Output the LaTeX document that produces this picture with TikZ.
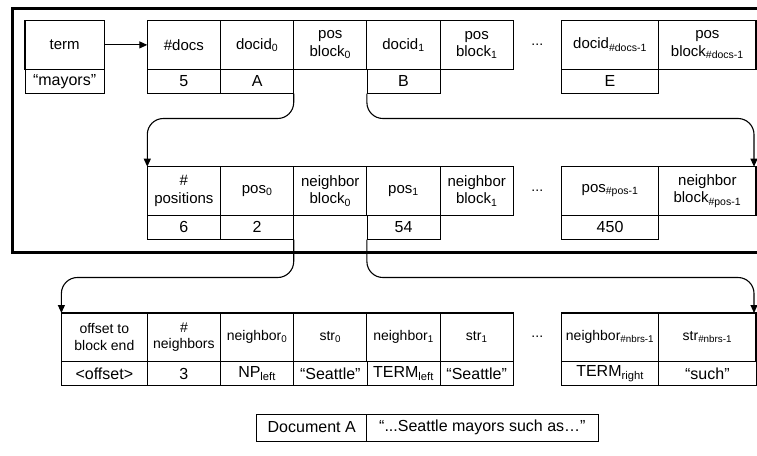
\documentclass[tikz,border=0pt]{standalone}
\usepackage{fontspec}
\setmainfont{Liberation Sans}
\usetikzlibrary{arrows.meta, positioning}

\begin{document}
\begin{tikzpicture}[x=1pt, y=-1pt,
    hdr/.style={rectangle, draw, line width=1.1pt, outer sep=0pt, inner sep=1pt,
                minimum width=73.2pt, minimum height=48.4pt, align=center,
                font=\fontsize{15}{17.5}\selectfont},
    hdrwide/.style={hdr, minimum width=97.3pt},
    row3/.style={font=\fontsize{14}{16.5}\selectfont},
    val/.style={rectangle, draw, line width=0.8pt, outer sep=0pt, inner sep=1pt,
                minimum width=73.2pt, minimum height=24.4pt,
                font=\fontsize{16}{18}\selectfont},
    valwide/.style={val, minimum width=97.3pt},
    ellip/.style={font=\fontsize{14}{16}\selectfont},
    ptr/.style={-{Triangle[length=8pt, width=7pt]}, line width=1.1pt, rounded corners=16pt}]

    \clip (0,0) rectangle (757,455);

    % Outer frame
    \draw[line width=2.6pt] (12.7,8.3) rectangle (790,252.3);

    % Term entry
    \node[hdr, minimum width=79.3pt] (term) at (64.6,44.9) {term};
    \node[val, minimum width=79.3pt, below=0pt of term] (mayors) {“mayors”};

    % Row 1: posting list
    \node[hdr] (ndocs) at (183.9,44.9) {\#docs};
    \node[hdr, right=0pt of ndocs] (docid0) {docid\textsubscript{0}};
    \node[hdr, right=0pt of docid0] (pblk0) {pos\\block\textsubscript{0}};
    \node[hdr, right=0pt of pblk0] (docid1) {docid\textsubscript{1}};
    \node[hdr, right=0pt of docid1] (pblk1) {pos\\block\textsubscript{1}};
    \node[ellip] (dots1) at (537.3,44.9) {...};
    \node[hdrwide] (docidn) at (610.05,44.9) {docid\textsubscript{\#docs-1}};
    \node[hdrwide, right=0pt of docidn] (pblkn) {pos\\block\textsubscript{\#docs-1}};

    \node[val, below=0pt of ndocs] (v5) {5};
    \node[val, below=0pt of docid0] (vA) {A};
    \node[val, below=0pt of docid1] (vB) {B};
    \node[valwide, below=0pt of docidn] (vE) {E};

    % Row 2: position block
    \node[hdr] (npos) at (183.9,190.9) {\#\\positions};
    \node[hdr, right=0pt of npos] (pos0) {pos\textsubscript{0}};
    \node[hdr, right=0pt of pos0] (nblk0) {neighbor\\block\textsubscript{0}};
    \node[hdr, right=0pt of nblk0] (pos1) {pos\textsubscript{1}};
    \node[hdr, right=0pt of pos1] (nblk1) {neighbor\\block\textsubscript{1}};
    \node[ellip] (dots2) at (537.3,190.9) {...};
    \node[hdrwide] (posn) at (610.05,190.9) {pos\textsubscript{\#pos-1}};
    \node[hdrwide, right=0pt of posn] (nblkn) {neighbor\\block\textsubscript{\#pos-1}};

    \node[val, below=0pt of npos] (v6) {6};
    \node[val, below=0pt of pos0] (v2) {2};
    \node[val, below=0pt of pos1] (v54) {54};
    \node[valwide, below=0pt of posn] (v450) {450};

    % Row 3: neighbor block
    \node[hdr, row3, minimum width=85.9pt] (offs) at (104.35,337.2) {offset to\\block end};
    \node[hdr, row3, right=0pt of offs] (nnbrs) {\#\\neighbors};
    \node[hdr, row3, right=0pt of nnbrs] (nbr0) {neighbor\textsubscript{0}};
    \node[hdr, row3, right=0pt of nbr0] (str0) {str\textsubscript{0}};
    \node[hdr, row3, right=0pt of str0] (nbr1) {neighbor\textsubscript{1}};
    \node[hdr, row3, right=0pt of nbr1] (str1) {str\textsubscript{1}};
    \node[ellip] (dots3) at (537.3,337.2) {...};
    \node[hdrwide, row3] (nbrn) at (610.05,337.2) {neighbor\textsubscript{\#nbrs-1}};
    \node[hdrwide, row3, right=0pt of nbrn] (strn) {str\textsubscript{\#nbrs-1}};

    \node[val, minimum width=85.9pt, below=0pt of offs] (voffs) {<offset>};
    \node[val, below=0pt of nnbrs] (v3) {3};
    \node[val, below=0pt of nbr0] (vnp) {NP\textsubscript{left}};
    \node[val, below=0pt of str0] (vsea0) {“Seattle”};
    \node[val, below=0pt of nbr1] (vtl) {TERM\textsubscript{left}};
    \node[val, below=0pt of str1] (vsea1) {“Seattle”};
    \node[valwide, below=0pt of nbrn] (vtr) {TERM\textsubscript{right}};
    \node[valwide, below=0pt of strn] (vsuch) {“such”};

    % Document
    \node[val, minimum width=110pt, minimum height=27pt] (docA) at (311.7,427.5) {Document A};
    \node[val, minimum width=231.3pt, minimum height=27pt, right=0pt of docA] (doctxt)
        {“...Seattle mayors such as…"};

    % Pointers
    \draw[-{Triangle[length=8pt, width=7pt]}, line width=1.1pt] (term) -- (ndocs);
    \draw[ptr] (vA.south east) -- ++(0,25) -| (npos.north west);
    \draw[ptr] (vB.south west) -- ++(0,25) -| ([xshift=-2pt]pblkn.south east |- nblkn.north);
    \draw[ptr] (v2.south east) -- ++(0,38) -| (offs.north west);
    \draw[ptr] (v54.south west) -- ++(0,38) -| ([xshift=-2pt]nblkn.south east |- strn.north);
\end{tikzpicture}
\end{document}
